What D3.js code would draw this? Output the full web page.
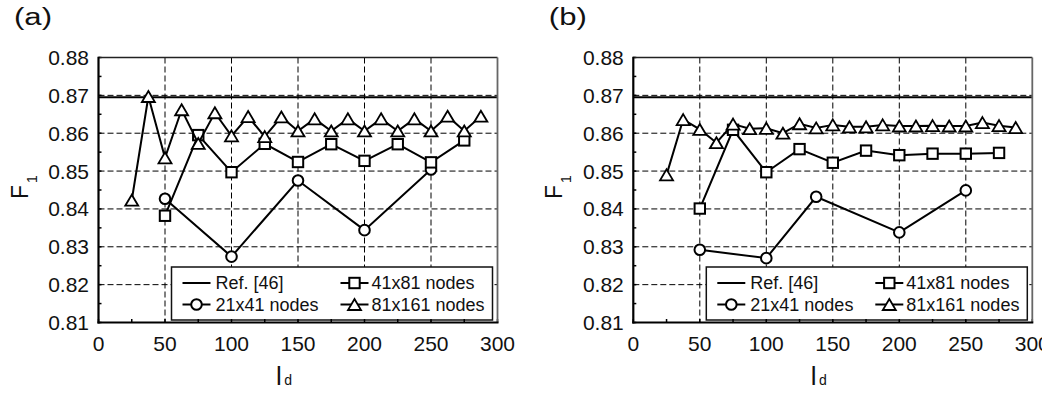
<!DOCTYPE html>
<html>
<head>
<meta charset="utf-8">
<script src="https://cdn.jsdelivr.net/npm/d3@7"></script>
<style>
  html, body { margin: 0; padding: 0; background: #fff; overflow: hidden; }
  svg { display: block; }
</style>
</head>
<body>
<svg id="chart" width="1042" height="396"></svg>
<script>
// ---------------- DATA ----------------
const xTicks = [0, 50, 100, 150, 200, 250, 300];
const yTicks = [0.81, 0.82, 0.83, 0.84, 0.85, 0.86, 0.87, 0.88];
const xGrid = [50, 100, 150, 200, 250];
const yGrid = [0.82, 0.83, 0.84, 0.85, 0.86, 0.87];
const panelLabels = ["(a)", "(b)"];
const legendLabels = ["Ref. [46]", "21x41 nodes", "41x81 nodes", "81x161 nodes"];
const refValue = 0.8695;

// Panel (a)
const a_circle_x = [50, 100, 150, 200, 250];
const a_circle_y = [0.8427, 0.8274, 0.8475, 0.8344, 0.8504];
const a_square_x = [50, 75, 100, 125, 150, 175, 200, 225, 250, 275];
const a_square_y = [0.8382, 0.8595, 0.8497, 0.8572, 0.8524, 0.8571, 0.8527, 0.8571, 0.8523, 0.8581];
const a_tri_x = [25, 37.5, 50, 62.5, 75, 87.5, 100, 112.5, 125, 137.5, 150, 162.5, 175, 187.5, 200, 212.5, 225, 237.5, 250, 262.5, 275, 287.5];
const a_tri_y = [0.8423, 0.8697, 0.8535, 0.8662, 0.8573, 0.8654, 0.8593, 0.8644, 0.8591, 0.8643, 0.8606, 0.8638, 0.8606, 0.8638, 0.8606, 0.8638, 0.8606, 0.8638, 0.8606, 0.8645, 0.8606, 0.8645];

// Panel (b)
const b_circle_x = [50, 100, 137.5, 200, 250];
const b_circle_y = [0.8292, 0.8270, 0.8432, 0.8338, 0.8449];
const b_square_x = [50, 75, 100, 125, 150, 175, 200, 225, 250, 275];
const b_square_y = [0.8401, 0.8609, 0.8497, 0.8558, 0.8522, 0.8554, 0.8542, 0.8546, 0.8546, 0.8548];
const b_tri_x = [25, 37.5, 50, 62.5, 75, 87.5, 100, 112.5, 125, 137.5, 150, 162.5, 175, 187.5, 200, 212.5, 225, 237.5, 250, 262.5, 275, 287.5];
const b_tri_y = [0.8490, 0.8636, 0.8610, 0.8575, 0.8624, 0.8612, 0.8613, 0.8600, 0.8625, 0.8614, 0.8622, 0.8617, 0.8617, 0.8622, 0.8619, 0.8619, 0.8620, 0.8619, 0.8619, 0.8628, 0.8620, 0.8615];

// ---------------- DRAW ----------------
const FONT = '"Liberation Sans", Arial, Helvetica, sans-serif';
const svg = d3.select("#chart");
svg.append("rect").attr("width", 1042).attr("height", 396).attr("fill", "#fff");

const zip = (xs, ys) => xs.map((x, i) => ({ x: x, y: ys[i] }));

const panels = [
  { left: 98.5, label: panelLabels[0],
    circles: zip(a_circle_x, a_circle_y), squares: zip(a_square_x, a_square_y), tris: zip(a_tri_x, a_tri_y) },
  { left: 633.3, label: panelLabels[1],
    circles: zip(b_circle_x, b_circle_y), squares: zip(b_square_x, b_square_y), tris: zip(b_tri_x, b_tri_y) }
];

const TOP = 57.5, BOTTOM = 322.5, WIDTH = 399;
const triPath = "M0,-5.5L6.5,5.5L-6.5,5.5Z";

function drawMarker(g, kind, cx, cy) {
  if (kind === "circle") {
    g.append("circle").attr("cx", cx).attr("cy", cy).attr("r", 5.3)
      .attr("fill", "#fff").attr("stroke", "#000").attr("stroke-width", 2);
  } else if (kind === "square") {
    g.append("rect").attr("x", cx - 5.2).attr("y", cy - 5.2).attr("width", 10.4).attr("height", 10.4)
      .attr("fill", "#fff").attr("stroke", "#000").attr("stroke-width", 2);
  } else if (kind === "tri") {
    g.append("path").attr("d", triPath).attr("transform", `translate(${cx},${cy})`)
      .attr("fill", "#fff").attr("stroke", "#000").attr("stroke-width", 1.8).attr("stroke-linejoin", "miter");
  }
}

panels.forEach(p => {
  const x = d3.scaleLinear().domain([0, 300]).range([p.left, p.left + WIDTH]);
  const y = d3.scaleLinear().domain([0.81, 0.88]).range([BOTTOM, TOP]);
  const g = svg.append("g");

  // grid
  g.selectAll(".vg").data(xGrid).enter().append("line")
    .attr("x1", d => x(d)).attr("x2", d => x(d)).attr("y1", TOP).attr("y2", BOTTOM)
    .attr("stroke", "#000").attr("stroke-width", 1).attr("stroke-dasharray", "6,3");
  g.selectAll(".hg").data(yGrid).enter().append("line")
    .attr("x1", p.left).attr("x2", p.left + WIDTH).attr("y1", d => y(d)).attr("y2", d => y(d))
    .attr("stroke", "#000").attr("stroke-width", 1).attr("stroke-dasharray", "6,3");

  // ref line
  g.append("line").attr("x1", x(0)).attr("x2", x(300)).attr("y1", y(refValue)).attr("y2", y(refValue))
    .attr("stroke", "#000").attr("stroke-width", 2.2);

  // series
  const line = d3.line().x(d => x(d.x)).y(d => y(d.y));
  [["circle", p.circles], ["square", p.squares], ["tri", p.tris]].forEach(([kind, data]) => {
    g.append("path").datum(data).attr("d", line).attr("fill", "none")
      .attr("stroke", "#000").attr("stroke-width", 2);
    data.forEach(d => drawMarker(g, kind, x(d.x), y(d.y)));
  });

  // legend
  const bw = 321, bh = 53;
  const bx = p.left + WIDTH - 5 - bw, by = BOTTOM - 2.5 - bh;
  const lg = g.append("g");
  lg.append("rect").attr("x", bx).attr("y", by).attr("width", bw).attr("height", bh)
    .attr("fill", "#fff").attr("stroke", "#111").attr("stroke-width", 1.5);
  const entries = [
    { kind: null, label: legendLabels[0], col: 0, row: 0 },
    { kind: "circle", label: legendLabels[1], col: 0, row: 1 },
    { kind: "square", label: legendLabels[2], col: 1, row: 0 },
    { kind: "tri", label: legendLabels[3], col: 1, row: 1 }
  ];
  entries.forEach(e => {
    const lx = bx + (e.col === 0 ? 11 : 169);
    const ly = by + (e.row === 0 ? 16 : 37.5);
    lg.append("line").attr("x1", lx).attr("x2", lx + 28).attr("y1", ly).attr("y2", ly)
      .attr("stroke", "#000").attr("stroke-width", 2);
    if (e.kind) drawMarker(lg, e.kind, lx + 14, ly);
    lg.append("text").attr("x", lx + (e.col === 0 ? 33 : 31)).attr("y", ly).attr("dy", "0.35em")
      .attr("font-family", FONT).attr("font-size", 18).attr("fill", "#111").text(e.label);
  });

  // minor / major ticks (inward)
  const yMinor = d3.range(0, 15).map(i => 0.81 + i * 0.005);
  g.selectAll(".yt").data(yMinor).enter().append("line")
    .attr("x1", p.left).attr("x2", p.left + 3).attr("y1", d => y(d)).attr("y2", d => y(d))
    .attr("stroke", "#000").attr("stroke-width", 1.5);
  const xMinor = d3.range(0, 13).map(i => i * 25);
  g.selectAll(".xt").data(xMinor).enter().append("line")
    .attr("x1", d => x(d)).attr("x2", d => x(d)).attr("y1", BOTTOM).attr("y2", BOTTOM - 3.5)
    .attr("stroke", "#000").attr("stroke-width", 1.5);

  // frame
  g.append("line").attr("x1", p.left).attr("x2", p.left + WIDTH).attr("y1", TOP).attr("y2", TOP)
    .attr("stroke", "#222").attr("stroke-width", 1.5);
  g.append("line").attr("x1", p.left + WIDTH).attr("x2", p.left + WIDTH).attr("y1", TOP).attr("y2", BOTTOM)
    .attr("stroke", "#666").attr("stroke-width", 1.8);
  g.append("line").attr("x1", p.left).attr("x2", p.left).attr("y1", TOP - 0.75).attr("y2", BOTTOM + 1)
    .attr("stroke", "#000").attr("stroke-width", 2.2);
  g.append("line").attr("x1", p.left - 1).attr("x2", p.left + WIDTH + 1).attr("y1", BOTTOM).attr("y2", BOTTOM)
    .attr("stroke", "#000").attr("stroke-width", 2.2);

  // tick labels
  g.selectAll(".yl").data(yTicks).enter().append("text")
    .attr("x", p.left - 9.5).attr("y", d => y(d)).attr("dy", "0.36em")
    .attr("text-anchor", "end").attr("font-family", FONT).attr("font-size", 21).attr("fill", "#111")
    .text(d => d.toFixed(2));
  g.selectAll(".xl").data(xTicks).enter().append("text")
    .attr("x", d => x(d)).attr("y", 351)
    .attr("text-anchor", "middle").attr("font-family", FONT).attr("font-size", 21).attr("fill", "#111")
    .text(d => d);

  // axis titles
  const yt = g.append("text").attr("transform", `translate(${p.left - 71},199) rotate(-90)`)
    .attr("font-family", FONT).attr("font-size", 23).attr("fill", "#111");
  yt.append("tspan").text("F");
  yt.append("tspan").attr("font-size", 14).attr("dy", 9).attr("dx", 2).text("1");

  const xt = g.append("text").attr("x", p.left + 177.5).attr("y", 385)
    .attr("font-family", FONT).attr("font-size", 26).attr("fill", "#111");
  xt.append("tspan").text("l");
  xt.append("tspan").attr("font-size", 14).attr("dx", 2.5).text("d");

  // panel label
  g.append("text").attr("x", p.left - 84.5).attr("y", 25)
    .attr("font-family", FONT).attr("font-size", 23).attr("fill", "#111")
    .attr("textLength", 38).attr("lengthAdjust", "spacingAndGlyphs")
    .text(p.label);
});
</script>
</body>
</html>
